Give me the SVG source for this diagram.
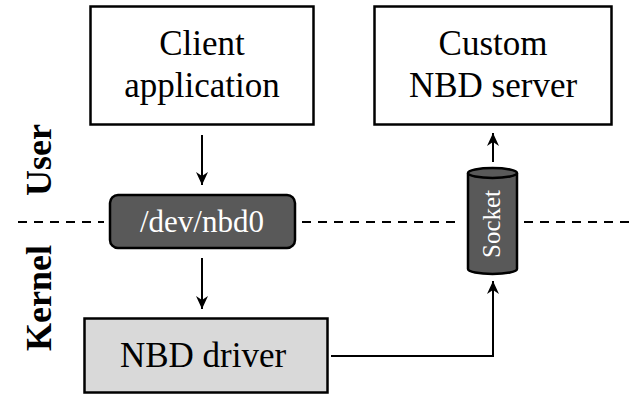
<svg xmlns="http://www.w3.org/2000/svg" width="632" height="394" viewBox="0 0 632 394">
<style>
.box{fill:#fff;stroke:#000;stroke-width:2.5}
text{font-family:'Liberation Serif','Times New Roman',Times,'DejaVu Serif',serif}
.t{font-size:35px;text-anchor:middle;fill:#000}
.w{fill:#fff}
.lbl{font-size:36px;font-weight:bold;text-anchor:middle;fill:#000}
.c{stroke:#000;stroke-width:2;fill:none}
.dash{stroke:#000;stroke-width:2;stroke-dasharray:9,7;fill:none}
</style>
<defs>
<marker id="ah" viewBox="0 0 13 12" refX="13" refY="6" markerWidth="13" markerHeight="12" markerUnits="userSpaceOnUse" orient="auto">
<path d="M0,0 L13,6 L0,12 L4,6 Z" fill="#000"/>
</marker>
</defs>
<g id="dashes">
<path class="dash" d="M18,222 H104 M302,222 H462 M524,222 H632"/>
</g>
<g id="user-label"><text class="lbl" transform="translate(51,160) rotate(-90)">User</text></g>
<g id="kernel-label"><text class="lbl" transform="translate(51,298) rotate(-90)">Kernel</text></g>
<g id="client">
<rect class="box" x="90.5" y="6.5" width="223" height="118"/>
<text class="t" x="202" y="55">Client</text>
<text class="t" x="202" y="97">application</text>
</g>
<g id="server">
<rect class="box" x="374.5" y="6.5" width="237" height="118"/>
<text class="t" x="493" y="55">Custom</text>
<text class="t" x="493" y="97">NBD server</text>
</g>
<g id="nbd0">
<rect x="110" y="195" width="185" height="53" rx="8" fill="#595959" stroke="#000" stroke-width="2.5"/>
<text class="t w" x="202" y="232" style="font-size:31px">/dev/nbd0</text>
</g>
<g id="driver">
<rect x="84.5" y="318.5" width="243" height="74" fill="#d9d9d9" stroke="#000" stroke-width="2.5"/>
<text class="t" x="203" y="367">NBD driver</text>
</g>
<g id="socket">
<path d="M468,173 V269 A24.5,5 0 0 0 517,269 V173" fill="#595959" stroke="#000" stroke-width="2.5"/>
<ellipse cx="492.5" cy="173" rx="24.5" ry="5" fill="#595959" stroke="#000" stroke-width="2.5"/>
<text class="t w" transform="translate(500,224) rotate(-90)" style="font-size:25px">Socket</text>
</g>
<g id="connectors">
<path class="c" d="M202,135 V185" marker-end="url(#ah)"/>
<path class="c" d="M202,258 V309" marker-end="url(#ah)"/>
<path class="c" d="M331,356 H493 V281" marker-end="url(#ah)"/>
<path class="c" d="M493,162 V133" marker-end="url(#ah)"/>
</g>
</svg>
